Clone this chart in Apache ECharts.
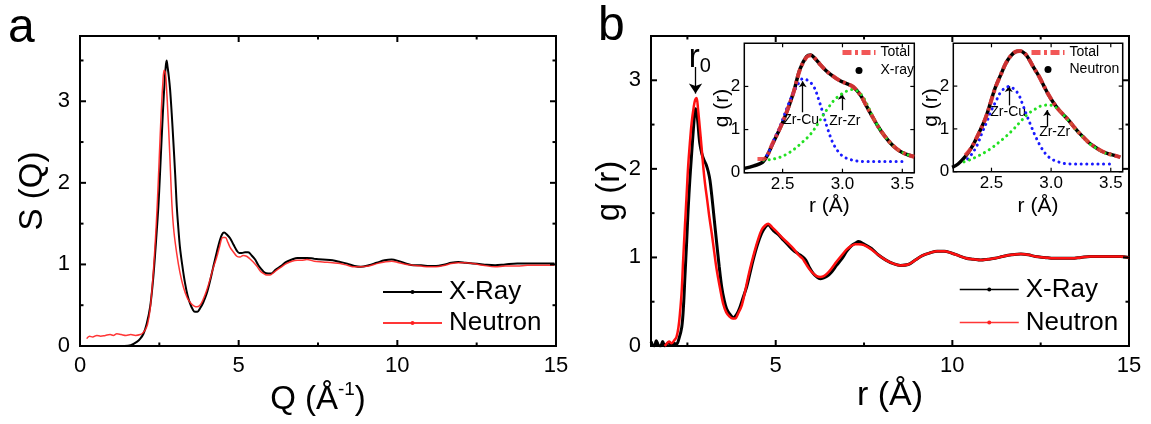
<!DOCTYPE html>
<html>
<head>
<meta charset="utf-8">
<script src="https://cdn.jsdelivr.net/npm/echarts@6/dist/echarts.min.js"></script>
<style>
  html, body { margin: 0; padding: 0; background: #fff; }
  #chart { width: 1151px; height: 424px; }
</style>
</head>
<body>
<div id="chart"></div>
<script>
// ---------- (a) structure factor S(Q) ----------
const qXray = [1.40,1.60,1.79,1.90,2.00,2.10,2.21,2.30,2.36,2.42,2.47,2.52,2.57,2.62,2.66,2.70,2.73,2.76,2.80,2.84,2.89,2.94,3.00,3.05,3.10,3.15,3.23,3.31,3.39,3.47,3.55,3.62,3.70,3.78,3.88,3.99,4.10,4.20,4.31,4.41,4.48,4.54,4.62,4.73,4.84,4.94,5.02,5.10,5.20,5.30,5.41,5.52,5.62,5.72,5.82,5.93,6.03,6.15,6.33,6.50,6.68,6.85,6.97,7.15,7.38,7.65,7.96,8.20,8.42,8.65,8.85,9.10,9.35,9.60,9.82,10.05,10.29,10.50,10.75,11.00,11.22,11.50,11.70,11.92,12.15,12.38,12.70,13.08,13.40,13.78,14.10,14.50,14.95];
const sXray = [0.00,0.01,0.05,0.09,0.15,0.27,0.48,0.80,1.09,1.42,1.71,2.10,2.52,2.92,3.20,3.42,3.50,3.42,3.30,3.14,2.85,2.52,2.10,1.71,1.44,1.21,0.97,0.77,0.62,0.52,0.45,0.42,0.42,0.46,0.53,0.64,0.80,0.97,1.15,1.30,1.37,1.39,1.37,1.32,1.24,1.17,1.14,1.14,1.15,1.15,1.11,1.06,0.99,0.94,0.90,0.89,0.89,0.93,0.98,1.03,1.06,1.08,1.08,1.08,1.07,1.06,1.05,1.03,1.01,0.98,0.97,0.99,1.02,1.05,1.06,1.04,1.01,0.99,0.99,0.98,0.98,1.00,1.02,1.03,1.02,1.01,1.00,0.99,1.00,1.01,1.01,1.01,1.01];
const qNeutron = [0.21,0.30,0.40,0.53,0.65,0.80,0.95,1.05,1.16,1.30,1.45,1.60,1.75,1.90,1.98,2.06,2.13,2.21,2.30,2.36,2.42,2.47,2.52,2.57,2.61,2.65,2.69,2.73,2.77,2.81,2.85,2.90,2.96,3.05,3.15,3.26,3.38,3.50,3.60,3.68,3.78,3.88,3.99,4.10,4.20,4.31,4.40,4.50,4.58,4.66,4.73,4.84,4.94,5.04,5.14,5.25,5.35,5.46,5.57,5.68,5.78,5.88,5.99,6.10,6.20,6.35,6.50,6.68,6.85,6.97,7.15,7.38,7.65,7.96,8.20,8.42,8.65,8.85,9.10,9.35,9.60,9.82,10.05,10.29,10.50,10.75,11.00,11.22,11.50,11.70,11.92,12.15,12.38,12.70,13.08,13.40,13.78,14.10,14.50,14.95];
const sNeutron = [0.09,0.12,0.11,0.13,0.12,0.13,0.14,0.13,0.15,0.14,0.13,0.14,0.13,0.14,0.16,0.20,0.27,0.45,0.85,1.20,1.62,2.05,2.52,2.95,3.22,3.38,3.35,3.14,2.85,2.52,2.15,1.71,1.40,1.13,0.90,0.72,0.59,0.52,0.49,0.48,0.50,0.57,0.68,0.82,0.96,1.09,1.22,1.33,1.33,1.27,1.21,1.15,1.10,1.09,1.11,1.10,1.07,1.03,0.98,0.92,0.89,0.87,0.87,0.90,0.93,0.97,1.01,1.04,1.05,1.05,1.06,1.04,1.03,1.02,1.01,0.99,0.97,0.97,0.98,1.01,1.03,1.04,1.02,1.00,0.99,0.98,0.97,0.97,0.99,1.01,1.02,1.02,1.01,0.99,0.97,0.98,0.98,0.99,0.99,0.99];

// ---------- (b) pair distribution g(r) ----------
const rXray = [1.47,1.52,1.57,1.62,1.68,1.74,1.80,1.86,1.92,1.98,2.05,2.12,2.19,2.26,2.34,2.39,2.43,2.48,2.52,2.57,2.62,2.67,2.71,2.74,2.79,2.85,2.91,2.97,3.03,3.09,3.14,3.19,3.26,3.33,3.40,3.47,3.54,3.61,3.70,3.80,3.90,3.99,4.08,4.18,4.27,4.36,4.48,4.60,4.70,4.79,4.88,4.97,5.07,5.23,5.35,5.50,5.64,5.75,5.85,5.95,6.06,6.16,6.26,6.36,6.46,6.57,6.72,6.88,7.01,7.14,7.25,7.35,7.50,7.71,7.90,8.12,8.33,8.53,8.75,8.95,9.15,9.36,9.57,9.77,9.97,10.18,10.39,10.60,10.80,11.01,11.21,11.42,11.68,11.94,12.15,12.35,12.61,12.87,13.12,13.38,13.64,13.90,14.20,14.50,14.75,15.00];
const gXray = [0.05,0.01,0.00,0.06,0.01,0.00,0.05,0.00,0.02,0.04,0.01,0.03,0.02,0.08,0.21,0.45,0.78,1.18,1.53,1.88,2.17,2.45,2.64,2.68,2.55,2.29,2.17,2.10,2.05,1.97,1.87,1.70,1.43,1.16,0.90,0.67,0.52,0.42,0.36,0.32,0.36,0.44,0.55,0.67,0.82,0.97,1.14,1.27,1.34,1.37,1.33,1.29,1.26,1.19,1.14,1.08,1.04,1.01,0.97,0.89,0.82,0.78,0.76,0.77,0.79,0.83,0.91,0.99,1.07,1.13,1.16,1.18,1.15,1.10,1.03,0.97,0.93,0.91,0.92,0.97,1.02,1.05,1.07,1.07,1.05,1.02,0.99,0.98,0.97,0.98,0.99,1.01,1.03,1.04,1.03,1.01,1.00,0.99,0.99,0.99,1.00,1.01,1.01,1.01,1.01,1.00];
const rNeutron = [1.86,1.92,1.98,2.05,2.12,2.19,2.25,2.29,2.34,2.38,2.43,2.48,2.52,2.57,2.62,2.68,2.72,2.76,2.80,2.85,2.90,2.95,3.00,3.06,3.12,3.19,3.26,3.33,3.42,3.51,3.60,3.70,3.78,3.85,3.94,4.04,4.13,4.22,4.31,4.41,4.50,4.60,4.70,4.79,4.90,5.03,5.19,5.35,5.50,5.64,5.75,5.85,5.95,6.06,6.16,6.26,6.36,6.46,6.57,6.72,6.88,7.01,7.14,7.25,7.35,7.50,7.71,7.90,8.12,8.33,8.53,8.75,8.95,9.15,9.36,9.57,9.77,9.97,10.18,10.39,10.60,10.80,11.01,11.21,11.42,11.68,11.94,12.15,12.35,12.61,12.87,13.12,13.38,13.64,13.90,14.20,14.50,14.75,15.00];
const gNeutron = [0.00,0.03,0.05,0.03,0.06,0.10,0.22,0.37,0.63,0.97,1.35,1.72,2.02,2.29,2.52,2.70,2.78,2.80,2.68,2.47,2.25,2.02,1.83,1.65,1.46,1.27,1.06,0.86,0.66,0.48,0.38,0.33,0.31,0.31,0.37,0.46,0.61,0.78,0.93,1.08,1.20,1.31,1.36,1.38,1.34,1.29,1.22,1.16,1.10,1.03,0.99,0.93,0.87,0.82,0.79,0.78,0.79,0.82,0.87,0.95,1.03,1.09,1.13,1.15,1.15,1.14,1.09,1.03,0.97,0.93,0.91,0.92,0.97,1.02,1.05,1.07,1.07,1.05,1.02,0.99,0.98,0.97,0.98,0.99,1.01,1.03,1.04,1.03,1.01,1.00,0.99,0.99,0.99,1.00,1.01,1.01,1.01,1.01,1.00];

// ---------- first-peak decomposition, X-ray ----------
const rInX = [2.18,2.26,2.34,2.42,2.51,2.59,2.645,2.70,2.735,2.77,2.81,2.85,2.90,2.98,3.04,3.09,3.15,3.20,3.25,3.30,3.35,3.40,3.45,3.50,3.55,3.60];
const gInX = [0.10,0.16,0.26,0.69,1.23,1.85,2.40,2.69,2.73,2.65,2.52,2.40,2.28,2.13,2.06,1.99,1.80,1.55,1.30,1.06,0.86,0.69,0.56,0.47,0.41,0.37];
const rTotX = [2.29,2.34,2.42,2.51,2.59,2.645,2.70,2.735,2.77,2.81,2.85,2.90,2.98,3.04,3.09,3.15,3.20,3.25,3.30,3.35,3.40,3.45,3.50,3.55,3.60];
const gTotX = [0.32,0.32,0.70,1.24,1.85,2.39,2.68,2.72,2.65,2.52,2.40,2.28,2.13,2.06,1.99,1.80,1.55,1.30,1.06,0.86,0.69,0.56,0.47,0.41,0.37];
const rCuX = [2.34,2.38,2.42,2.47,2.51,2.55,2.59,2.63,2.67,2.71,2.76,2.81,2.84,2.87,2.92,2.97,3.01,3.06,3.12,3.20,3.30,3.40,3.52];
const gCuX = [0.30,0.45,0.72,1.02,1.31,1.60,1.85,2.06,2.18,2.14,2.00,1.62,1.35,1.07,0.69,0.47,0.37,0.31,0.27,0.26,0.26,0.26,0.26];
const rZrX = [2.34,2.41,2.48,2.54,2.59,2.63,2.67,2.72,2.76,2.80,2.84,2.88,2.92,2.97,3.01,3.05,3.09,3.14,3.18,3.22,3.26,3.30,3.35,3.40,3.45,3.50,3.55,3.58];
const gZrX = [0.29,0.31,0.36,0.44,0.53,0.62,0.72,0.85,0.99,1.16,1.34,1.50,1.65,1.78,1.85,1.91,1.93,1.86,1.72,1.50,1.27,1.06,0.86,0.69,0.56,0.47,0.41,0.38];

// ---------- first-peak decomposition, neutron ----------
const rInN = [2.17,2.22,2.28,2.33,2.37,2.45,2.53,2.58,2.62,2.66,2.70,2.74,2.78,2.81,2.85,2.90,2.94,2.98,3.02,3.06,3.10,3.15,3.19,3.23,3.28,3.32,3.36,3.40,3.44,3.48,3.53,3.58];
const gInN = [0.10,0.18,0.35,0.55,0.76,1.25,1.95,2.28,2.53,2.70,2.80,2.82,2.76,2.65,2.45,2.22,2.00,1.79,1.61,1.46,1.34,1.19,1.05,0.92,0.78,0.67,0.59,0.52,0.46,0.42,0.38,0.34];
const rTotN = [2.28,2.33,2.37,2.45,2.53,2.58,2.62,2.66,2.70,2.74,2.78,2.81,2.85,2.90,2.94,2.98,3.02,3.06,3.10,3.15,3.19,3.23,3.28,3.32,3.36,3.40,3.44,3.48,3.53,3.58];
const gTotN = [0.38,0.55,0.76,1.25,1.94,2.28,2.53,2.70,2.80,2.82,2.76,2.65,2.45,2.22,2.00,1.79,1.61,1.46,1.34,1.19,1.05,0.92,0.78,0.67,0.59,0.52,0.46,0.42,0.38,0.34];
const rCuN = [2.30,2.34,2.38,2.42,2.46,2.50,2.54,2.57,2.61,2.645,2.69,2.73,2.76,2.79,2.83,2.87,2.91,2.95,3.00,3.06,3.12,3.20,3.30,3.40,3.49];
const gCuN = [0.30,0.43,0.62,0.90,1.16,1.44,1.66,1.83,1.95,1.99,1.93,1.79,1.58,1.36,1.08,0.82,0.60,0.43,0.30,0.23,0.19,0.18,0.18,0.18,0.18];
const rZrN = [2.27,2.33,2.39,2.45,2.50,2.56,2.62,2.68,2.73,2.77,2.81,2.86,2.90,2.94,2.98,3.02,3.06,3.10,3.15,3.19,3.23,3.28,3.32,3.36,3.40,3.44,3.48,3.52];
const gZrN = [0.23,0.29,0.37,0.46,0.55,0.68,0.82,0.98,1.13,1.25,1.36,1.45,1.52,1.55,1.56,1.53,1.46,1.34,1.18,1.04,0.91,0.77,0.66,0.58,0.51,0.45,0.41,0.38];

// ---------- axis ranges and tick values ----------
const rangeAx = [0, 15], rangeAy = [0, 3.8];
const rangeBx = [1.47, 15], rangeBy = [0, 3.5];
const rangeInx = [2.18, 3.6], rangeIny = [0, 3];
const ticksAx = { major: [0, 5, 10, 15], minor: [2.5, 7.5, 12.5] };
const ticksAy = { major: [0, 1, 2, 3], minor: [0.5, 1.5, 2.5, 3.5] };
const ticksBx = { major: [5, 10, 15], minor: [2.5, 7.5, 12.5] };
const ticksBy = { major: [0, 1, 2, 3], minor: [0.5, 1.5, 2.5] };
const ticksInx = { major: [2.5, 3.0, 3.5], minor: [] };
const ticksIny = { major: [0, 1, 2], minor: [] };

const FONT = '"Liberation Sans", Arial, Helvetica, sans-serif';
const zip = (xs, ys) => xs.map((x, i) => [x, ys[i]]);

function axis(dim, gridIndex, range, labels, c) {
  const ax = {
    type: 'value', gridIndex, min: range[0], max: range[1],
    position: dim === 'x' ? 'bottom' : 'left',
    splitLine: { show: false }, splitArea: { show: false },
    axisLine: { show: false, onZero: false }, axisTick: { show: false }, minorTick: { show: false },
    axisPointer: { show: false }, nameMoveOverlap: false,
    axisLabel: { show: true, customValues: labels, fontSize: c.fontSize, fontFamily: FONT,
                 color: '#000', margin: c.margin, formatter: c.formatter }
  };
  if (c.name) {
    ax.name = c.name;
    ax.nameLocation = 'middle';
    ax.nameGap = c.nameGap;
    if (dim === 'y') ax.nameRotate = 90;
    ax.nameTextStyle = Object.assign({ color: '#000', fontFamily: FONT }, c.nameStyle);
  }
  return ax;
}

// Inward ticks on all four sides of a frame, placed through the grid's own scales.
function tickSeries(g, xr, yr, xt, yt, majorLen, minorLen, width) {
  const data = [];
  xt.major.forEach(v => data.push([v, yr[0], 0]));
  xt.minor.forEach(v => data.push([v, yr[0], 1]));
  yt.major.forEach(v => data.push([xr[0], v, 2]));
  yt.minor.forEach(v => data.push([xr[0], v, 3]));
  return {
    type: 'custom', xAxisIndex: g, yAxisIndex: g, data, silent: true, clip: false, z: 8,
    encode: { x: 0, y: 1 }, animation: false,
    renderItem: (params, api) => {
      const cs = params.coordSys;
      const kind = api.value(2);
      const p = api.coord([api.value(0), api.value(1)]);
      const len = kind % 2 === 0 ? majorLen : minorLen;
      const segs = kind < 2
        ? [[p[0], cs.y + cs.height, p[0], cs.y + cs.height - len], [p[0], cs.y, p[0], cs.y + len]]
        : [[cs.x, p[1], cs.x + len, p[1]], [cs.x + cs.width, p[1], cs.x + cs.width - len, p[1]]];
      return {
        type: 'group',
        children: segs.map(s => ({
          type: 'line', shape: { x1: s[0], y1: s[1], x2: s[2], y2: s[3] },
          style: { stroke: '#000', lineWidth: width }
        }))
      };
    }
  };
}

const mainLbl = { fontSize: 22, margin: 9 };
const insetXLbl = { fontSize: 17, margin: 3, formatter: v => v.toFixed(1) };
const insetYLbl = { fontSize: 17, margin: 4 };

const xAxes = [
  axis('x', 0, rangeAx, ticksAx.major, Object.assign({}, mainLbl, {
    name: '{n|Q (Å}{s|-1}{n|)}', nameGap: 34,
    nameStyle: { rich: { n: { fontSize: 33, lineHeight: 40, fontFamily: FONT, color: '#000' },
                         s: { fontSize: 19, lineHeight: 22, verticalAlign: 'top', fontFamily: FONT, color: '#000' } } } })),
  axis('x', 1, rangeBx, ticksBx.major, Object.assign({}, mainLbl, {
    name: 'r (Å)', nameGap: 31, nameStyle: { fontSize: 34, lineHeight: 38 } })),
  axis('x', 2, rangeInx, ticksInx.major, Object.assign({}, insetXLbl, {
    name: 'r (Å)', nameGap: 23, nameStyle: { fontSize: 21, lineHeight: 22 } })),
  axis('x', 3, rangeInx, ticksInx.major, Object.assign({}, insetXLbl, {
    name: 'r (Å)', nameGap: 24, nameStyle: { fontSize: 21, lineHeight: 22 } }))
];
const yAxes = [
  axis('y', 0, rangeAy, ticksAy.major, Object.assign({}, mainLbl, { margin: 10,
    name: 'S (Q)', nameGap: 30, nameStyle: { fontSize: 33, lineHeight: 34 } })),
  axis('y', 1, rangeBy, ticksBy.major, Object.assign({}, mainLbl, { margin: 10,
    name: 'g (r)', nameGap: 24, nameStyle: { fontSize: 33, lineHeight: 34 } })),
  axis('y', 2, rangeIny, ticksIny.major, Object.assign({}, insetYLbl, {
    name: 'g (r)', nameGap: 12, nameStyle: { fontSize: 21, lineHeight: 21 } })),
  axis('y', 3, rangeIny, ticksIny.major, Object.assign({}, insetYLbl, {
    name: 'g (r)', nameGap: 12, nameStyle: { fontSize: 21, lineHeight: 21 } }))
];

function curve(name, g, data, color, width, extra) {
  return Object.assign({
    type: 'line', name, data, smooth: 0.35, symbol: 'circle', symbolSize: 4, showSymbol: false,
    xAxisIndex: g, yAxisIndex: g, animation: false,
    lineStyle: { color, width }, itemStyle: { color }, z: 3, silent: true
  }, extra || {});
}

function dots(name, g, data, color) {
  return curve(name, g, data, color, 3, {
    symbol: 'none', lineStyle: { color, width: 3, type: [0.1, 5.5], cap: 'round' }, z: 5
  });
}

const arrowMark = (from, to, size) => ({
  silent: true, symbol: ['none', 'arrow'], symbolSize: size, animation: false,
  lineStyle: { color: '#000', width: 1.3, type: 'solid' }, label: { show: false },
  emphasis: { disabled: true },
  data: [[{ coord: from }, { coord: to }]]
});
const textMark = (items, fontSize) => ({
  silent: true, symbol: 'circle', symbolSize: 0, animation: false,
  label: { show: true, position: 'inside', color: '#000', fontFamily: FONT, fontSize },
  data: items.map(it => ({ coord: it.at, label: { formatter: it.text } }))
});

const RED_T = '#f03a3a';
const totalStyle = { color: RED_T, width: 4, type: [9, 3.5, 3, 3.5], opacity: 0.85 };

const series = [
  tickSeries(0, rangeAx, rangeAy, ticksAx, ticksAy, 6, 3.5, 2),
  tickSeries(1, rangeBx, rangeBy, ticksBx, ticksBy, 6, 3.5, 2),
  tickSeries(2, rangeInx, rangeIny, ticksInx, ticksIny, 4, 2, 1.2),
  tickSeries(3, rangeInx, rangeIny, ticksInx, ticksIny, 4, 2, 1.2),
  // (a)
  curve('X-Ray', 0, zip(qXray, sXray), '#000', 2),
  curve('Neutron', 0, zip(qNeutron, sNeutron), '#ff2020', 1.5, { lineStyle: { color: '#ff2020', width: 1.5, opacity: 0.9 } }),
  // (b)
  curve('X-Ray', 1, zip(rXray, gXray), '#000', 3),
  curve('Neutron', 1, zip(rNeutron, gNeutron), '#ff1010', 2.5, {
    markLine: arrowMark([2.73, 3.15], [2.73, 2.85], 10),
    markPoint: {
      silent: true, symbol: 'circle', symbolSize: 0, animation: false,
      label: { show: true, position: 'inside', formatter: '{r|r}{s|0}',
        rich: { r: { fontSize: 33, lineHeight: 36, fontFamily: FONT, color: '#000' },
                s: { fontSize: 20, lineHeight: 20, verticalAlign: 'bottom', fontFamily: FONT, color: '#000' } } },
      data: [{ coord: [2.85, 3.25] }]
    }
  }),
  // inset, X-ray
  curve('X-ray', 2, zip(rInX, gInX), '#000', 3.5, { z: 4 }),
  curve('Total', 2, zip(rTotX, gTotX), RED_T, 4, { symbol: 'none', lineStyle: totalStyle, z: 6 }),
  dots('Zr-Cu X', 2, zip(rCuX, gCuX), '#1a1aff'),
  dots('Zr-Zr X', 2, zip(rZrX, gZrX), '#22e022'),
  curve('notes X1', 2, [], '#000', 1, { markLine: arrowMark([2.668, 1.40], [2.668, 2.12], 6) }),
  curve('notes X2', 2, [], '#000', 1, {
    markLine: arrowMark([2.994, 1.45], [2.994, 1.83], 6),
    markPoint: textMark([{ text: 'Zr-Cu', at: [2.655, 1.23] }, { text: 'Zr-Zr', at: [3.02, 1.19] }], 14)
  }),
  // inset, neutron
  curve('Neutron ', 3, zip(rInN, gInN), '#000', 3.5, { z: 4 }),
  curve('Total', 3, zip(rTotN, gTotN), RED_T, 4, { symbol: 'none', lineStyle: totalStyle, z: 6 }),
  dots('Zr-Cu N', 3, zip(rCuN, gCuN), '#1a1aff'),
  dots('Zr-Zr N', 3, zip(rZrN, gZrN), '#22e022'),
  curve('notes N1', 3, [], '#000', 1, { markLine: arrowMark([2.645, 1.55], [2.645, 2.0], 6) }),
  curve('notes N2', 3, [], '#000', 1, {
    markLine: arrowMark([2.966, 1.05], [2.966, 1.44], 6),
    markPoint: textMark([{ text: 'Zr-Cu', at: [2.64, 1.40] }, { text: 'Zr-Zr', at: [3.03, 0.93] }], 14)
  })
];

const legendBase = { orient: 'vertical', itemGap: 0, selectedMode: false, padding: 0 };

const frame = (left, top, width, height, bw) => ({
  left, top, width, height, show: true, borderColor: '#000', borderWidth: bw, backgroundColor: 'transparent'
});

const option = {
  animation: false,
  backgroundColor: '#fff',
  title: [
    { text: 'a', left: 8, top: 5, padding: 0, textStyle: { fontSize: 48, fontWeight: 'normal', fontFamily: FONT, color: '#000' } },
    { text: 'b', left: 598, top: 3, padding: 0, textStyle: { fontSize: 48, fontWeight: 'normal', fontFamily: FONT, color: '#000' } }
  ],
  grid: [
    frame(80, 36, 476, 310, 2),
    frame(651, 36, 478, 310, 2),
    frame(744.3, 43.3, 170, 129.4, 1.5),
    frame(953.3, 43.3, 169.4, 128.4, 1.5)
  ],
  xAxis: xAxes,
  yAxis: yAxes,
  legend: [
    Object.assign({}, legendBase, {
      data: ['X-Ray', 'Neutron'], left: 382, top: 276.5, itemWidth: 59, itemHeight: 5,
      textStyle: { fontSize: 26, lineHeight: 31, fontFamily: FONT, color: '#000', padding: [0, 0, 0, 2] }
    }),
    Object.assign({}, legendBase, {
      data: ['X-Ray', 'Neutron'], left: 959, top: 273, itemWidth: 59, itemHeight: 5,
      lineStyle: { width: 1.5 },
      textStyle: { fontSize: 26, lineHeight: 33, fontFamily: FONT, color: '#000', padding: [0, 0, 0, 2] }
    }),
    Object.assign({}, legendBase, {
      data: [{ name: 'Total', itemStyle: { opacity: 0 } }, { name: 'X-ray', icon: 'circle' }],
      left: 840, top: 43.5, itemWidth: 33, itemHeight: 7, lineStyle: { width: 5 },
      textStyle: { fontSize: 14, lineHeight: 18, fontFamily: FONT, color: '#000' }
    }),
    Object.assign({}, legendBase, {
      data: [{ name: 'Total', itemStyle: { opacity: 0 } }, { name: 'Neutron ', icon: 'circle' }],
      left: 1029, top: 44, itemWidth: 33, itemHeight: 7, lineStyle: { width: 5 },
      formatter: n => n.trim(),
      textStyle: { fontSize: 14, lineHeight: 17, fontFamily: FONT, color: '#000' }
    })
  ],
  series
};

const chart = echarts.init(document.getElementById('chart'), null, { renderer: 'canvas' });
chart.setOption(option);
</script>
</body>
</html>
